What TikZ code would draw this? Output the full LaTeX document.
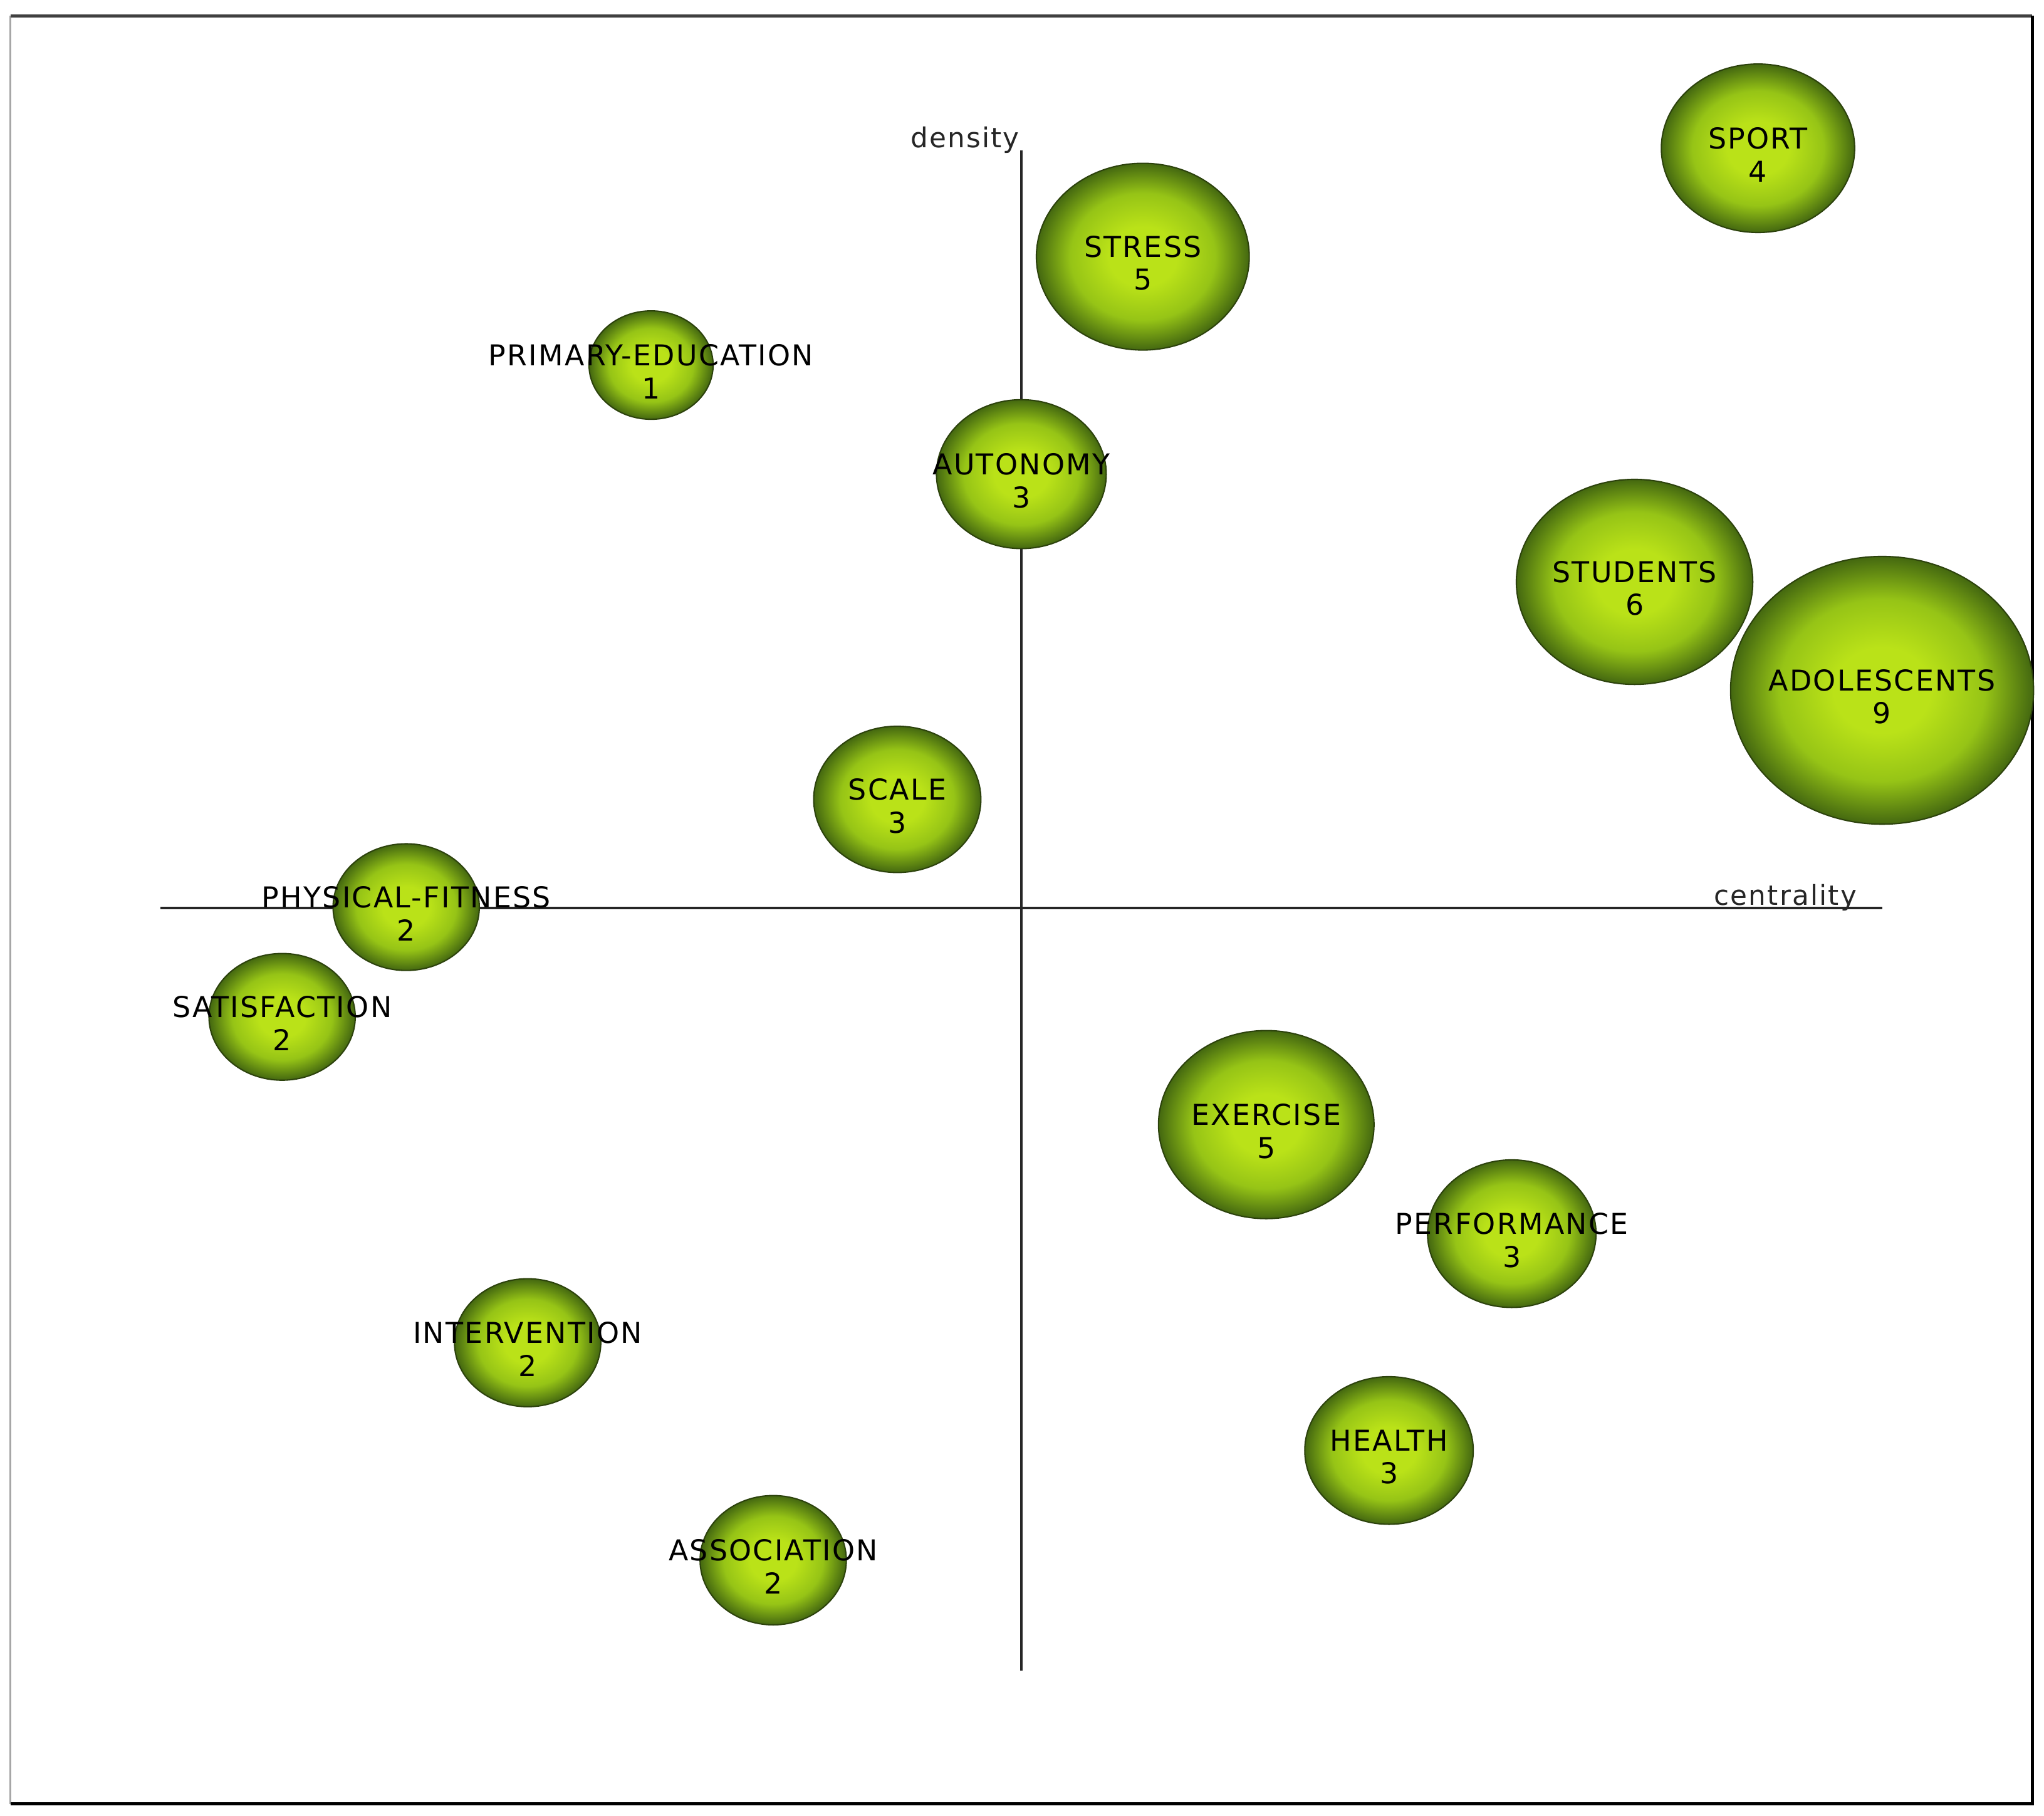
\documentclass[tikz,border=0pt]{standalone}
\usepackage{fontspec}
\setmainfont{DejaVu Sans}
\newfontfamily\lblfont{DejaVu Sans}[LetterSpace=5]
\usetikzlibrary{shapes.geometric}
\definecolor{ballin}{RGB}{186,226,24}
\definecolor{ballmid}{RGB}{150,196,22}
\definecolor{ballout}{RGB}{68,104,16}
\definecolor{balledge}{RGB}{44,66,12}
\pgfdeclareradialshading{bubble}{\pgfpointorigin}{color(0bp)=(ballin); color(8bp)=(ballin); color(17bp)=(ballmid); color(25bp)=(ballout); color(50bp)=(ballout)}
\tikzset{
  bub/.style={ellipse, inner sep=0pt, shading=bubble, draw=balledge, line width=1pt},
  lbl/.style={align=center, inner sep=0pt, font=\lblfont\fontsize{22}{25.2}\selectfont, text=black},
  axis/.style={line width=1.8pt, draw=black!85},
  axlbl/.style={inner sep=0pt, font=\lblfont\fontsize{21}{25.2}\selectfont, text=black!85}
}
\newcommand{\bubble}[6]{%
  \node[bub, minimum width=#4pt, minimum height=#5pt] (#1) at (#2,#3) {};
  \node[lbl] (#1-t) at (#2,#3+5) {#6};
}
\begin{document}
\begin{tikzpicture}[x=1pt,y=-1pt]
\useasboundingbox (0,0) rectangle (1565,1390);
% frame
\coordinate (tl) at (8,12);
\coordinate (tr) at (1556,12);
\coordinate (br) at (1556,1381);
\coordinate (bl) at (8,1381);
\draw[line width=1.5pt, gray!70] (bl) -- (tl);
\draw[line width=2.4pt, black!75] (tl) -- (tr);
\draw[line width=2.6pt, black] (tr) -- (br) -- (bl);
% axes
\coordinate (xl) at (123,695);
\coordinate (xr) at (1441,695);
\coordinate (yt) at (782,115);
\coordinate (yb) at (782,1279);
\draw[axis] (xl) -- (xr);
\draw[axis] (yt) -- (yb);
\node[axlbl, anchor=base west] (dens) at (697,113) {density};
\node[axlbl, anchor=base] (cent) at (1367,693) {centrality};
% bubbles
\bubble{sport}{1346}{113.5}{148}{129}{SPORT\\4}
\bubble{stress}{875}{196.5}{163}{143}{STRESS\\5}
\bubble{primary}{498.5}{279.5}{95}{83}{PRIMARY-EDUCATION\\1}
\bubble{autonomy}{782}{363}{130}{114}{AUTONOMY\\3}
\bubble{students}{1251.5}{445.5}{181}{157}{STUDENTS\\6}
\bubble{adolescents}{1441}{528.5}{232}{205}{ADOLESCENTS\\9}
\bubble{scale}{687}{612}{128}{112}{SCALE\\3}
\bubble{physical}{311}{694.5}{112}{97}{PHYSICAL-FITNESS\\2}
\bubble{satisfaction}{216}{778.5}{112}{97}{SATISFACTION\\2}
\bubble{exercise}{969.5}{861}{165}{144}{EXERCISE\\5}
\bubble{performance}{1157.5}{944.5}{129}{113}{PERFORMANCE\\3}
\bubble{intervention}{404}{1028}{112}{98}{INTERVENTION\\2}
\bubble{health}{1063.5}{1110.5}{129}{113}{HEALTH\\3}
\bubble{association}{592}{1194.5}{112}{99}{ASSOCIATION\\2}
\end{tikzpicture}
\end{document}
